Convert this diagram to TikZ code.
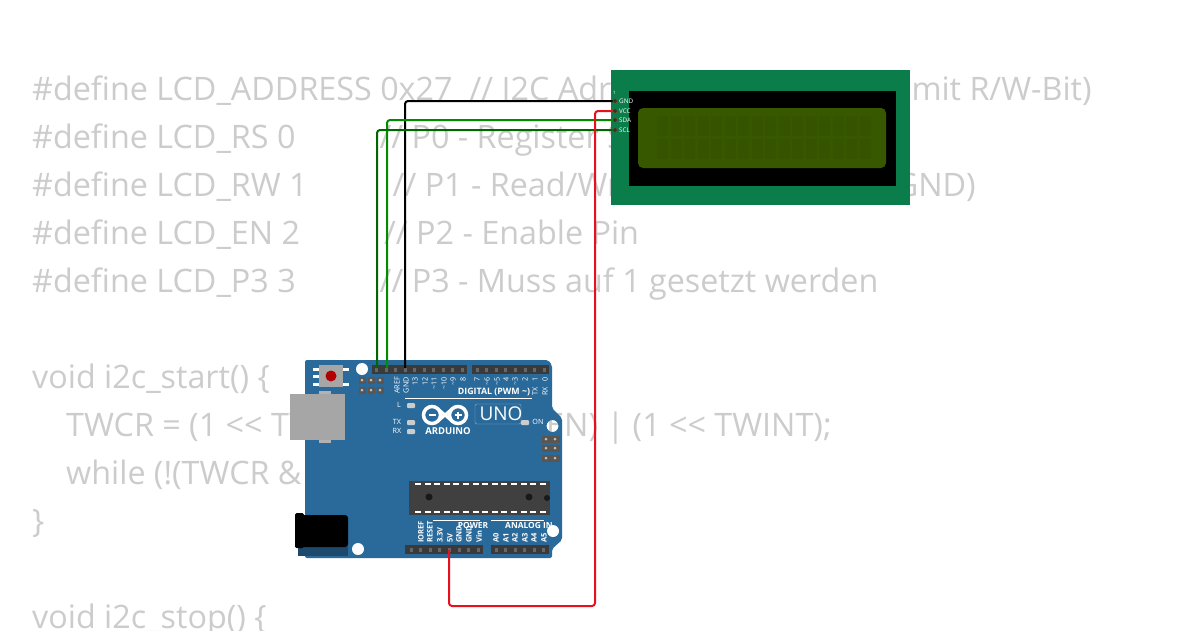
\documentclass[tikz,border=0pt]{standalone}
\usepackage{fontspec}
\setmainfont{Open Sans}
\definecolor{codegray}{HTML}{CCCCCC}
\definecolor{boardblue}{HTML}{2A6A9A}
\definecolor{pcbgreen}{HTML}{0B7D4A}
\definecolor{lcdgreen}{HTML}{385800}
\definecolor{headgray}{HTML}{3A3A3A}
\definecolor{icspgray}{HTML}{5A5550}
\newcommand{\gap}[1]{\hspace{#1pt}}
\begin{document}
\begin{tikzpicture}[x=1pt,y=-1pt,
				code/.style={anchor=base west,inner sep=0pt,text=codegray,font=\fontsize{32.3}{32.3}\selectfont},
				silk/.style={text=white,inner sep=0pt,font=\fontsize{7.2}{7.2}\selectfont},
				silkb/.style={text=white,inner sep=0pt,font=\fontsize{8.4}{8.4}\selectfont\bfseries},
				lcdpin/.style={text=white,inner sep=0pt,anchor=west,font=\fontsize{6.3}{6.3}\selectfont},
				wire/.style={line width=2pt,rounded corners=3pt},
				hole/.style={circle,fill=white,inner sep=0pt,minimum size=12pt},
				led/.style={fill=#1,rounded corners=1pt,draw=none}]
\useasboundingbox (0,0) rectangle (1200,630);
\fill[white] (0,0) rectangle (1200,630);
% code behind the parts
\node[code] (c1) at (32,100) {\#define LCD\_ADDRESS 0x27\gap{17}// I2C Adresse des LCD-Chip\gap{7} (mit R/W-Bit)};
\node[code] (c2) at (32,148) {\#define LCD\_RS 0\gap{84}// P0 - Register Select};
\node[code] (c3) at (32,196) {\#define LCD\_RW 1\gap{85}// P1 - Read/Write (immer auf 0 = GND)};
\node[code] (c4) at (32,244) {\#define LCD\_EN 2\gap{84}// P2 - Enable Pin};
\node[code] (c5) at (32,292) {\#define LCD\_P3 3\gap{84}// P3 - Muss auf 1 gesetzt werden};
\node[code] (c6) at (32,388) {void i2c\_start() \{};
\node[code] (c7) at (66,436) {TWCR = (1 <{}< TWSTA) | (1 <{}< TWEN) | (1 <{}< TWINT);};
\node[code] (c8) at (66,484) {while (!(TWCR \& (1 <{}< TWINT)));};
\node[code] (c9) at (32,532) {\}};
\node[code] (c10) at (32,628) {void i2c\_stop() \{};
% board, the hole near ON lets the code show through
\fill[boardblue,even odd rule] [rounded corners=2pt] (305,360) -- (548,360) -- (552,365) -- (552,408) -- (562,418) -- (562,540) -- (552,549) -- (552,558) -- (305,558) -- cycle [sharp corners] (552.5,426) circle (6);
\fill[boardblue!70!black] (298,520) rectangle (348,556);
\fill[black,rounded corners=1.5pt] (295,513) rectangle (304,548);
\fill[black,rounded corners=3pt] (301,515) rectangle (348,547);
\fill[black!30] (319,391) rectangle (331,396);
\fill[black!30] (319,438) rectangle (331,443);
\fill[black!35] (290,394) rectangle (345,440);
\foreach \y in {369,376,384} {
	\fill[white] (313,\y-1.5) rectangle (319,\y+1.5);
}
\foreach \y in {369,384} {
	\fill[white] (343,\y-1.5) rectangle (349,\y+1.5);
}
\fill[black!35] (319,365) rectangle (343,387);
\fill[red!70!black] (331,376) circle (5.5);
\node[hole] (h1) at (362,369) {};
\node[hole] (h3) at (358,549) {};
\node[hole] (h4) at (553,531) {};
% icsp
\foreach \x in {362,371,380} {
	\foreach \y in {380,390} {
		\fill[icspgray] (\x-3.5,\y-3.5) rectangle (\x+3.5,\y+3.5);
		\fill[black!25] (\x,\y) circle (1.5);
	}
}
\foreach \x in {546,555} {
	\foreach \y in {439,448,458} {
		\fill[icspgray] (\x-4.5,\y-3.5) rectangle (\x+4.5,\y+3.5);
		\fill[black!25] (\x,\y) circle (1.5);
	}
}
% headers
\fill[headgray] (372,365) rectangle (467,374);
\fill[headgray] (472,365) rectangle (549,374);
\fill[headgray] (405,545) rectangle (483,554);
\fill[headgray] (491,545) rectangle (549,554);
\foreach \i in {0,...,9} {
	\fill[black!60] (376.5+9.5*\i-1.5,368) rectangle (376.5+9.5*\i+1.5,372);
}
\foreach \i in {0,...,7} {
	\fill[black!60] (477+9.6*\i-1.5,368) rectangle (477+9.6*\i+1.5,372);
	\fill[black!60] (411+9.6*\i-1.5,548) rectangle (411+9.6*\i+1.5,552);
}
\foreach \i in {0,...,5} {
	\fill[black!60] (496+9.5*\i-1.5,548) rectangle (496+9.5*\i+1.5,552);
}
% chip
\fill[black!75] (409,481) rectangle (550,515);
\foreach \i in {0,...,13} {
	\fill[white] (415+9.6*\i,483) rectangle (421+9.6*\i,485);
	\fill[white] (415+9.6*\i,511) rectangle (421+9.6*\i,513);
}
\fill[black!90] (429,497) circle (3.5);
\fill[black!90] (529,497) circle (3.5);
\fill[black!90] (547,498) circle (3);
% silk top
\foreach \x/\t in {397/AREF,406/GND,415/13,425/12,434/\textasciitilde 11,444/\textasciitilde 10,453/\textasciitilde 9,463/8,477/7,487/\textasciitilde 6,497/\textasciitilde 5,506/4,515/\textasciitilde 3,525/2,535/1,545/0} {
	\node[silk,rotate=90,anchor=east] at (\x,377) {\t};
}
\node[silk,rotate=90,anchor=east] (tx) at (535,387) {TX};
\node[silk,rotate=90,anchor=east] (rx) at (545,387) {RX};
\node[silkb,font=\fontsize{8.8}{8.8}\selectfont\bfseries] (digital) at (494,392) {DIGITAL (PWM \textasciitilde)};
\draw[white,line width=.7pt] (405,398) -- (532,398);
\node[silk] (lbl) at (399,405) {L};
\node[silk] (txl) at (397,422) {TX};
\node[silk] (rxl) at (397,431) {RX};
\fill[led=black!20] (407,403) rectangle (415,408);
\fill[led=black!20] (407,420) rectangle (415,425);
\fill[led=black!20] (407,429) rectangle (415,434);
% logo
\draw[white,line width=3.5pt] (432,415) circle (8.5);
\draw[white,line width=3.5pt] (458,415) circle (8.5);
\draw[white,line width=3pt] (437.5,408.5) -- (452.5,421.5) (437.5,421.5) -- (452.5,408.5);
\draw[white,line width=1.4pt] (428.5,415) -- (435.5,415);
\draw[white,line width=1.4pt] (454.5,415) -- (461.5,415) (458,411.5) -- (458,418.5);
\node[text=white,inner sep=0pt,font=\fontsize{9.5}{9.5}\selectfont\bfseries] (ard) at (448,431) {ARDUINO};
\draw[white!50!boardblue,line width=.4pt,rounded corners=2pt] (475,404) rectangle (521,424);
\node[text=white,inner sep=0pt,font=\fontsize{19}{19}\selectfont] (uno) at (501,414) {UNO};
\fill[led=black!20] (521,420) rectangle (529,425);
\node[silk] (on) at (538,422) {ON};
% silk bottom
\foreach \x/\t in {421/IOREF,430/RESET,440/3.3V,450/5V,459/GND,469/GND,479/Vin,496/A0,506/A1,515/A2,525/A3,534/A4,544/A5} {
	\node[silk,rotate=90,anchor=west,font=\fontsize{7.5}{7.5}\selectfont\bfseries] at (\x,543) {\t};
}
\draw[white,line width=.7pt] (433,520) -- (480,520) (491,520) -- (544,520);
\node[silkb] (pwr) at (473,525) {POWER};
\node[silkb] (ana) at (529,525) {ANALOG IN};
% lcd
\fill[pcbgreen] (611,70) rectangle (910,205);
\fill[black] (629,91) rectangle (896,186);
\fill[lcdgreen,rounded corners=5pt] (638,108) rectangle (886,168);
\foreach \i in {0,...,15} {
	\fill[lcdgreen!96!black] (657+13.5*\i,116) rectangle (668+13.5*\i,136);
	\fill[lcdgreen!96!black] (657+13.5*\i,139) rectangle (668+13.5*\i,159);
}
\node[lcdpin,font=\fontsize{4.5}{4.5}\selectfont] (one) at (613,93) {1};
\node[lcdpin] (lgnd) at (619,101) {GND};
\node[lcdpin] (lvcc) at (619,111) {VCC};
\node[lcdpin] (lsda) at (619,120) {SDA};
\node[lcdpin] (lscl) at (619,130) {SCL};
% pins the wires go to
\coordinate (gnd) at (615,101);
\coordinate (vcc) at (615,111);
\coordinate (sda) at (615,120);
\coordinate (scl) at (615,130);
\coordinate (ugnd) at (405,368);
\coordinate (usda) at (387,368);
\coordinate (uscl) at (377,368);
\coordinate (u5v) at (449,550);
% wires
\draw[wire,black] (ugnd) |- (gnd);
\draw[wire,green!55!black] (usda) |- (sda);
\draw[wire,green!40!black] (uscl) |- (scl);
\draw[wire,color={rgb,255:red,232;green,16;blue,28}] (u5v) -- (449,606) -- (595,606) -- (595,111) -- (vcc);
\foreach \p in {gnd,vcc,sda,scl} {
	\fill[black!80,draw=olive!60!black,line width=.5pt] (\p) circle (2.2);
}
\end{tikzpicture}
\end{document}
